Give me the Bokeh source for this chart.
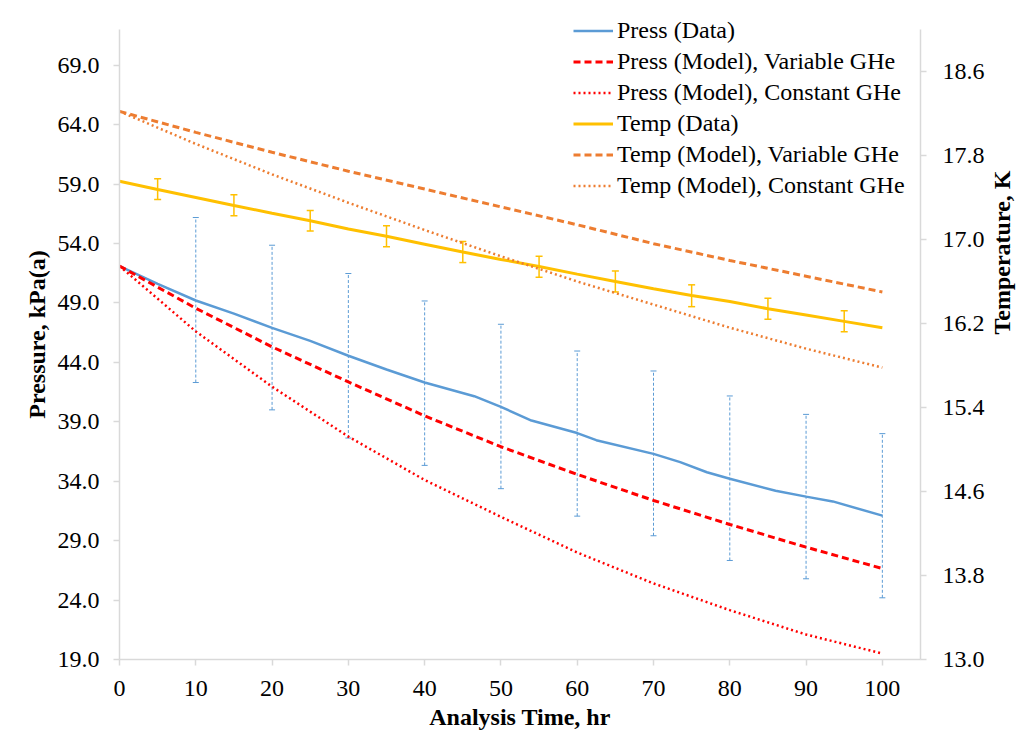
import math
from bokeh.plotting import figure
from bokeh.models import (Range1d, LinearAxis, FixedTicker, PrintfTickFormatter,
                          ColumnDataSource, Whisker, TeeHead, Legend, LegendItem)
from bokeh.embed import file_html
from bokeh.resources import INLINE

# ---------------- data ----------------
press_hours = [0, 5, 10, 15, 20, 25, 30, 35, 40, 46.5, 50, 54, 60, 62.5, 70, 73.5, 77, 80, 86, 90, 93.5, 100]
press_data = [52.1, 50.6, 49.2, 48.1, 46.9, 45.8, 44.55, 43.4, 42.3, 41.15, 40.25, 39.1, 38.05, 37.45,
              36.3, 35.6, 34.75, 34.2, 33.2, 32.7, 32.3, 31.1]

model_hours = [0, 10, 20, 30, 40, 50, 60, 70, 80, 90, 100]
press_model_var = [52.1, 48.55, 45.3, 42.35, 39.5, 36.9, 34.57, 32.38, 30.36, 28.45, 26.65]
press_model_const = [52.1, 46.6, 41.95, 37.75, 34.1, 31.0, 28.0, 25.4, 23.15, 21.1, 19.5]

temp_hours = [0, 5, 10, 15, 20, 25, 30, 35, 40, 45, 50, 55, 60, 65, 70, 75, 80, 85, 90, 95, 100]
temp_data = [17.555, 17.476, 17.40, 17.324, 17.25, 17.178, 17.10, 17.03, 16.955, 16.88, 16.81, 16.743,
             16.67, 16.60, 16.53, 16.467, 16.41, 16.34, 16.28, 16.22, 16.16]
temp_model_var = [18.22, 18.02, 17.83, 17.65, 17.48, 17.31, 17.14, 16.96, 16.80, 16.65, 16.50]
temp_model_const = [18.22, 17.91, 17.62, 17.35, 17.09, 16.84, 16.60, 16.38, 16.16, 15.96, 15.78]

press_err_hours = [10, 20, 30, 40, 50, 60, 70, 80, 90, 100]
press_err_high = [56.18, 53.85, 51.47, 49.16, 47.2, 44.95, 43.27, 41.17, 39.62, 38.0]
press_err_low = [42.3, 40.0, 37.63, 35.33, 33.37, 31.06, 29.41, 27.33, 25.79, 24.19]

temp_err_hours = [5, 15, 25, 35, 45, 55, 65, 75, 85, 95]
temp_err_high = [17.578, 17.426, 17.276, 17.13, 16.98, 16.84, 16.70, 16.568, 16.44, 16.32]
temp_err_low = [17.38, 17.225, 17.08, 16.93, 16.78, 16.64, 16.50, 16.36, 16.24, 16.12]

x_ticks = [0, 10, 20, 30, 40, 50, 60, 70, 80, 90, 100]
press_ticks = [19.0, 24.0, 29.0, 34.0, 39.0, 44.0, 49.0, 54.0, 59.0, 64.0, 69.0]
temp_ticks = [13.0, 13.8, 14.6, 15.4, 16.2, 17.0, 17.8, 18.6]

labels = ["Press (Data)", "Press (Model), Variable GHe", "Press (Model), Constant GHe",
          "Temp (Data)", "Temp (Model), Variable GHe", "Temp (Model), Constant GHe"]

FONT = "Liberation Serif"
BLUE = "#5B9BD5"
RED = "#FF0000"
GOLD = "#FFC000"
ORANGE = "#ED7D31"
AXIS_GREY = "#D9D9D9"

# frame extends a little above the axes (axis bounds stop at 72 / 19) so the legend is not clipped
p = figure(frame_width=801, frame_height=650,
           x_range=Range1d(0, 105), y_range=Range1d(19, 73.68),
           output_backend="svg", toolbar_location=None,
           min_border_left=119, min_border_right=100, min_border_top=9, min_border_bottom=86,
           outline_line_color=None, background_fill_color="white", border_fill_color="white")
p.extra_y_ranges = {"temp": Range1d(13, 19.19)}
p.xgrid.visible = False
p.ygrid.visible = False

right_axis = LinearAxis(y_range_name="temp")
p.add_layout(right_axis, "right")


def style_axis(ax, ticks, fmt, title, label_standoff, title_standoff):
    ax.ticker = FixedTicker(ticks=ticks)
    ax.formatter = PrintfTickFormatter(format=fmt)
    ax.axis_line_color = AXIS_GREY
    ax.axis_line_width = 1.5
    ax.major_tick_line_color = AXIS_GREY
    ax.major_tick_line_width = 1.5
    ax.major_tick_out = 6
    ax.major_tick_in = 0
    ax.minor_tick_line_color = None
    ax.major_label_text_font = FONT
    ax.major_label_text_font_style = "normal"
    ax.major_label_text_font_size = "24px"
    ax.major_label_text_color = "black"
    ax.major_label_standoff = label_standoff
    ax.axis_label = title
    ax.axis_label_text_font = FONT
    ax.axis_label_text_font_size = "24px"
    ax.axis_label_text_font_style = "bold"
    ax.axis_label_text_color = "black"
    ax.axis_label_standoff = title_standoff


style_axis(p.xaxis[0], x_ticks, "%d", "Analysis Time, hr", 15, 5)
style_axis(p.yaxis[0], press_ticks, "%.1f", "Pressure, kPa(a)", 14, 5)
style_axis(right_axis, temp_ticks, "%.1f", "Temperature, K", 16, 14)
right_axis.axis_label_orientation = math.pi / 2
p.yaxis[0].bounds = (19, 72)
right_axis.bounds = (13, 19)

# ---------------- lines ----------------
r_pd = p.line(press_hours, press_data, line_color=BLUE, line_width=2.5)
r_pmv = p.line(model_hours, press_model_var, line_color=RED, line_width=3, line_dash="7 4")
r_pmc = p.line(model_hours, press_model_const, line_color=RED, line_width=2.5, line_dash="2 3")
r_td = p.line(temp_hours, temp_data, line_color=GOLD, line_width=3, y_range_name="temp")
r_tmv = p.line(model_hours, temp_model_var, line_color=ORANGE, line_width=3, line_dash="7 4",
               y_range_name="temp")
r_tmc = p.line(model_hours, temp_model_const, line_color=ORANGE, line_width=2.5, line_dash="2 3",
               y_range_name="temp")

# ---------------- error bars ----------------
press_src = ColumnDataSource(dict(x=press_err_hours, upper=press_err_high, lower=press_err_low))
pw = Whisker(source=press_src, base="x", upper="upper", lower="lower", dimension="height",
             line_color=BLUE, line_width=1, line_dash="3 2",
             upper_head=TeeHead(size=6, line_color=BLUE, line_width=1),
             lower_head=TeeHead(size=6, line_color=BLUE, line_width=1))
p.add_layout(pw)

temp_src = ColumnDataSource(dict(x=temp_err_hours, upper=temp_err_high, lower=temp_err_low))
tw = Whisker(source=temp_src, base="x", upper="upper", lower="lower", dimension="height",
             y_range_name="temp", line_color=GOLD, line_width=1.5,
             upper_head=TeeHead(size=7, line_color=GOLD, line_width=1.5),
             lower_head=TeeHead(size=7, line_color=GOLD, line_width=1.5))
p.add_layout(tw)

# ---------------- legend ----------------
renderers = [r_pd, r_pmv, r_pmc, r_td, r_tmv, r_tmc]
legend = Legend(items=[LegendItem(label=l, renderers=[r]) for l, r in zip(labels, renderers)],
                location=(454, 458), orientation="vertical",
                padding=0, spacing=0, margin=0,
                glyph_width=40, glyph_height=31, label_height=31, label_standoff=4,
                label_text_font=FONT, label_text_font_style="normal",
                label_text_font_size="24px", label_text_color="black",
                border_line_alpha=0, background_fill_alpha=0)
p.add_layout(legend)

open("out.html", "w").write(file_html(p, INLINE))
